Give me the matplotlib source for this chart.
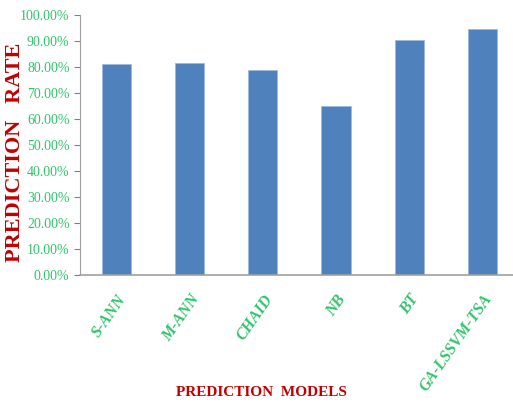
import matplotlib
matplotlib.use("Agg")
import matplotlib.pyplot as plt
from matplotlib.ticker import PercentFormatter

models = ["S-ANN", "M-ANN", "CHAID", "NB", "BT", "GA-LSSVM-TSA"]
rates = [81.2, 81.7, 79.0, 65.1, 90.6, 94.5]

green = "#2fc46a"
red = "#c00000"

plt.rcParams['font.family'] = ['Liberation Serif', 'DejaVu Serif']

fig = plt.figure(figsize=(5.13, 4.08), dpi=100)
ax = fig.add_axes([0.156, 0.326, 0.844, 0.637])

x = list(range(len(models)))
ax.bar(x, rates, width=0.40, color="#4f81bd", edgecolor="#9db8dd", linewidth=0.6)

ax.set_xlim(-0.5, 5.42)
ax.set_ylim(0, 100)
ax.set_yticks(range(0, 101, 10))
ax.yaxis.set_major_formatter(PercentFormatter(decimals=2))

for s in ["top", "right"]:
    ax.spines[s].set_visible(False)
ax.spines["left"].set_color("#a0a0a0")
ax.spines["bottom"].set_color("#a0a0a0")
ax.spines["bottom"].set_linewidth(1.2)

ax.tick_params(axis="y", colors="#808080", labelcolor=green, labelsize=10, length=4)
ax.tick_params(axis="x", length=0, pad=12)
ax.set_xticks(x)
ax.set_xticklabels(models, rotation=55, ha="right", va="top", rotation_mode="anchor",
                   color=green, fontstyle="italic", fontweight="bold", fontsize=11.5)

fig.text(0.03, 0.627, "PREDICTION   RATE", rotation=90, ha="center", va="center",
         color=red, fontweight="bold", fontsize=16)
fig.text(0.51, 0.037, "PREDICTION  MODELS", ha="center", va="center",
         color=red, fontweight="bold", fontsize=11)

fig.savefig("out.png", dpi=100)
